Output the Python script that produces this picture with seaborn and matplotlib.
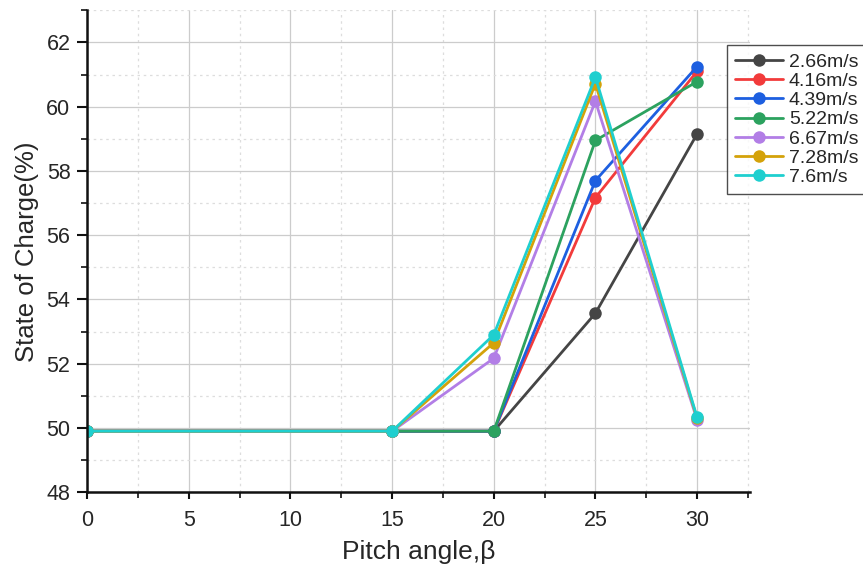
import numpy as np
import pandas as pd
import matplotlib
matplotlib.use("Agg")
import matplotlib.pyplot as plt
import seaborn as sns
from matplotlib.ticker import MultipleLocator

pitch = [0, 15, 20, 25, 30]
series_names = ["2.66m/s", "4.16m/s", "4.39m/s", "5.22m/s", "6.67m/s", "7.28m/s", "7.6m/s"]
soc_266 = [49.9, 49.9, 49.9, 53.57, 59.15]
soc_416 = [49.9, 49.9, 49.9, 57.17, 61.1]
soc_439 = [49.9, 49.9, 49.9, 57.7, 61.25]
soc_522 = [49.9, 49.9, 49.9, 58.95, 60.78]
soc_667 = [49.9, 49.9, 52.17, 60.17, 50.25]
soc_728 = [49.9, 49.9, 52.65, 60.72, 50.3]
soc_760 = [49.9, 49.9, 52.9, 60.92, 50.33]
colors = ["#454545", "#f23b3b", "#1d5fe0", "#2ca25f", "#b27ee6", "#d4a20a", "#1fcfcf"]

all_vals = [soc_266, soc_416, soc_439, soc_522, soc_667, soc_728, soc_760]
df = pd.DataFrame({
    "pitch": np.tile(pitch, len(series_names)),
    "soc": np.concatenate(all_vals),
    "speed": np.repeat(series_names, len(pitch)),
})

sns.set_style("white")
plt.rcParams["font.family"] = ["Liberation Sans", "DejaVu Sans"]

fig = plt.figure(figsize=(8.63, 5.73), dpi=100)
ax = fig.add_axes([0.101, 0.141, 0.768, 0.841])

sns.lineplot(data=df, x="pitch", y="soc", hue="speed", hue_order=series_names,
             palette=colors, marker="o", markersize=9, markeredgewidth=0,
             linewidth=2, ax=ax, sort=False)

ax.set_xlim(0, 32.6)
ax.set_ylim(48, 63)
ax.xaxis.set_major_locator(MultipleLocator(5))
ax.xaxis.set_minor_locator(MultipleLocator(2.5))
ax.yaxis.set_major_locator(MultipleLocator(2))
ax.yaxis.set_minor_locator(MultipleLocator(1))
ax.set_xticks([0, 5, 10, 15, 20, 25, 30])
ax.grid(which="major", color="#cccccc", linewidth=0.9, linestyle="-")
ax.grid(which="minor", color="#dddddd", linewidth=0.9, linestyle=(0, (2, 3)))
ax.set_axisbelow(True)

for s in ["top", "right"]:
    ax.spines[s].set_visible(False)
for s in ["left", "bottom"]:
    ax.spines[s].set_color("#111111")
    ax.spines[s].set_linewidth(1.8)

ax.tick_params(which="major", direction="out", width=1.5, labelsize=15.5,
               left=True, bottom=True, color="#111111")
ax.tick_params(axis="y", which="major", length=7, pad=5)
ax.tick_params(axis="x", which="major", length=5, pad=8)
ax.tick_params(which="minor", direction="out", length=4, width=1.2,
               left=True, bottom=True, color="#111111")

ax.set_xlabel("Pitch angle,β", fontsize=19, labelpad=6)
ax.set_ylabel("State of Charge(%)", fontsize=18.5, labelpad=5)

leg = ax.legend(loc="upper left", bbox_to_anchor=(0.965, 0.927), fontsize=14,
                frameon=True, fancybox=False, edgecolor="#222222",
                handlelength=2.5, handletextpad=0.3, borderpad=0.4,
                labelspacing=0.08, borderaxespad=0)
leg.get_frame().set_linewidth(1.0)

fig.savefig("out.png", dpi=100)
